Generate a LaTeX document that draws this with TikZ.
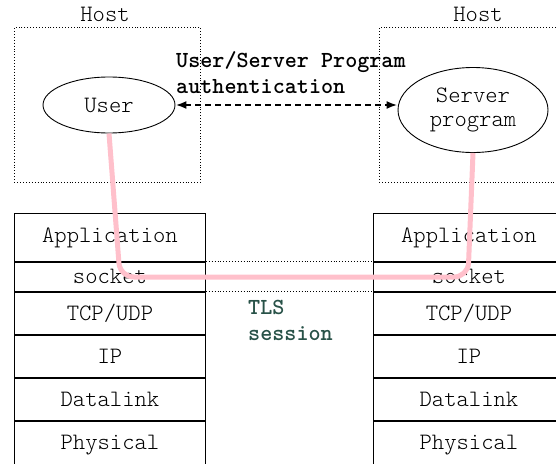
\documentclass[tikz,border=0pt]{standalone}
\usepackage{fontspec}
\usepackage{tikz}
\usetikzlibrary{positioning,shapes.geometric,arrows.meta}
\definecolor{sessionpink}{RGB}{255,192,203}
\definecolor{tlsgreen}{RGB}{40,82,72}
\newcommand{\stackfont}{\ttfamily\fontseries{l}\selectfont\fontsize{23.5}{24}\selectfont}
\newcommand{\notefont}{\ttfamily\bfseries\fontsize{23}{26}\selectfont}
\tikzset{
	layer/.style={draw, line width=0.9pt, minimum width=191pt, inner sep=0pt, font=\stackfont},
	hostbox/.style={draw, dotted, line width=0.9pt, minimum width=186pt, minimum height=155pt, inner sep=0pt},
	endpoint/.style={draw, ellipse, line width=0.9pt, inner sep=0pt, align=center, font=\stackfont},
	hostlabel/.style={font=\stackfont, inner sep=0pt},
	note/.style={font=\notefont, align=left, inner sep=0pt}
}
\begin{document}
\begin{tikzpicture}[x=1pt, y=-1pt]
		%%%%% START %%%%%
		\useasboundingbox (0, 0) rectangle (556, 463);
		
		% hosts
		\node[hostbox, anchor=north west] (lhost) at (14, 27) {};
		\node[hostbox, anchor=north west] (rhost) at (379, 27) {};
		\node[hostlabel] (lhostname) at (105, 14) {Host};
		\node[hostlabel] (rhostname) at (478, 14) {Host};
		
		\node[endpoint, minimum width=132pt, minimum height=56pt] (user) at (109, 105) {User};
		\node[endpoint, minimum width=150pt, minimum height=85pt] (server) at (473, 110) {Server\\program};
		
		\draw[line width=2pt, dash pattern=on 6pt off 4pt, {Latex[length=11pt,width=8pt]}-{Latex[length=11pt,width=8pt]}] (user.east) -- (user.east -| server.west);
		\node[note, anchor=west] (authnote) at (176, 73) {User/Server Program\\authentication};
		
		% left stack
		\node[layer, minimum height=48pt, anchor=north west] (lapp) at (14, 213) {Application};
		\node[layer, minimum height=29pt, below=0pt of lapp] (lsock) {socket};
		\node[layer, minimum height=42pt, below=0pt of lsock] (ltcp) {TCP/UDP};
		\node[layer, minimum height=42pt, below=0pt of ltcp] (lip) {IP};
		\node[layer, minimum height=42pt, below=0pt of lip] (llink) {Datalink};
		\node[layer, minimum height=48pt, below=0pt of llink] (lphys) {Physical};
		
		% right stack
		\node[layer, minimum height=48pt, anchor=north west] (rapp) at (373, 213) {Application};
		\node[layer, minimum height=29pt, below=0pt of rapp] (rsock) {socket};
		\node[layer, minimum height=42pt, below=0pt of rsock] (rtcp) {TCP/UDP};
		\node[layer, minimum height=42pt, below=0pt of rtcp] (rip) {IP};
		\node[layer, minimum height=42pt, below=0pt of rip] (rlink) {Datalink};
		\node[layer, minimum height=48pt, below=0pt of rlink] (rphys) {Physical};
		
		% tls pipe
		\draw[dotted, line width=0.9pt] (lsock.north east) -- (rsock.north west);
		\draw[dotted, line width=0.9pt] (lsock.south east) -- (rsock.south west);
		\node[note, text=tlsgreen, anchor=west] (tlsnote) at (248, 320) {TLS\\session};
		
		\coordinate (bendl) at (120, 277);
		\coordinate (bendr) at (468, 277);
		\draw[sessionpink, line width=5pt, rounded corners=14pt] (user.south) -- (bendl) -- (bendr) -- (server.south);
		
		%%%%% END %%%%%
	\end{tikzpicture}
\end{document}
